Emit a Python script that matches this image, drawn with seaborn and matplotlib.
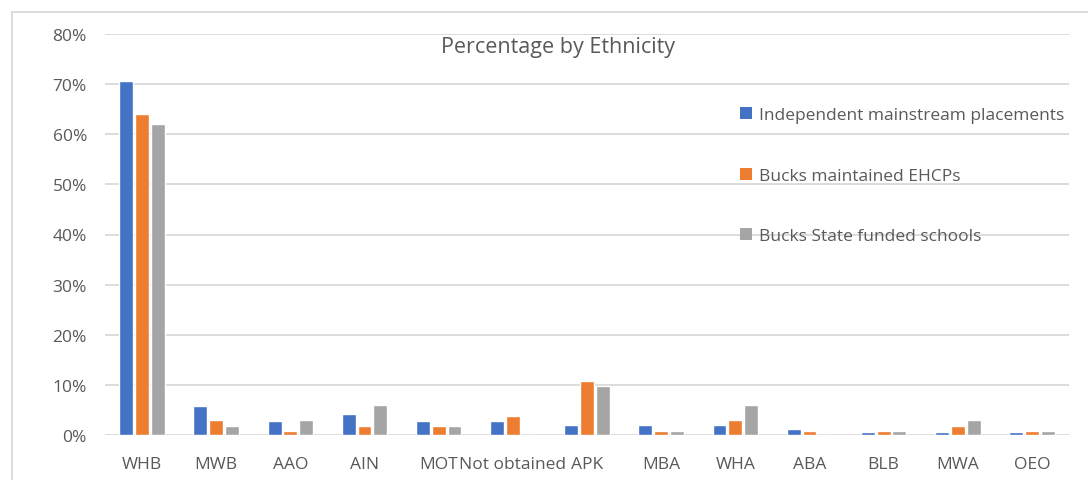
import matplotlib
matplotlib.use("Agg")
import matplotlib.pyplot as plt
import seaborn as sns
import pandas as pd
from matplotlib.ticker import PercentFormatter
from matplotlib.lines import Line2D
from matplotlib.patches import Patch

categories = ["WHB", "MWB", "AAO", "AIN", "MOT", "Not obtained", "APK",
              "MBA", "WHA", "ABA", "BLB", "MWA", "OEO"]
series_names = ["Independent mainstream placements", "Bucks maintained EHCPs",
                "Bucks State funded schools"]
independent = [70.7, 5.7, 2.7, 4.2, 2.7, 2.7, 2.0, 2.0, 2.0, 1.2, 0.5, 0.5, 0.5]
ehcps = [64.0, 2.9, 0.8, 1.8, 1.8, 3.7, 10.7, 0.8, 2.9, 0.8, 0.8, 1.8, 0.8]
state = [62.0, 1.8, 2.9, 5.9, 1.8, 0.0, 9.8, 0.8, 5.9, 0.0, 0.8, 2.9, 0.8]
colors = ["#4472C4", "#ED7D31", "#A5A5A5"]

rows = []
for name, vals in zip(series_names, [independent, ehcps, state]):
    for c, v in zip(categories, vals):
        rows.append({"cat": c, "series": name, "value": v / 100})
df = pd.DataFrame(rows)

sns.set_theme(style="white")
plt.rcParams["font.family"] = ["Open Sans", "DejaVu Sans"]
text_color = "#595959"

fig = plt.figure(figsize=(10.88, 4.81), dpi=100)
ax = fig.add_axes([105 / 1088, 1 - 436 / 481, (1069 - 105) / 1088, (436 - 35) / 481])

sns.barplot(data=df, x="cat", y="value", hue="series", order=categories,
            hue_order=series_names, palette=colors, width=0.64, gap=0.12,
            saturation=1, ax=ax, legend=False)

ax.set_ylim(0, 0.8)
ax.set_yticks([i / 10 for i in range(9)])
ax.yaxis.set_major_formatter(PercentFormatter(1.0, decimals=0))
ax.set_xlim(-0.5, len(categories) - 0.5)
ax.grid(axis="y", color="#D9D9D9", linewidth=1.3)
ax.set_axisbelow(True)
for s in ax.spines.values():
    s.set_visible(False)
ax.set_xlabel("")
ax.set_ylabel("")
ax.tick_params(axis="both", length=0, labelsize=12.5, colors=text_color)
ax.tick_params(axis="y", pad=13)
ax.tick_params(axis="x", pad=15)

fig.text(558 / 1088, 1 - 47 / 481, "Percentage by Ethnicity", ha="center",
         va="center", fontsize=15.5, color=text_color)

handles = [Patch(facecolor=c, edgecolor="none") for c in colors]
leg = ax.legend(handles, series_names, loc="upper left",
                bbox_to_anchor=((740 - 105) / (1069 - 105), (436 - 108) / (436 - 35)),
                frameon=False, fontsize=12.5, labelspacing=2.56,
                handlelength=0.7, handleheight=0.7, handletextpad=0.4,
                borderpad=0, borderaxespad=0)
for t in leg.get_texts():
    t.set_color(text_color)

# outer chart border (left and top visible)
fig.add_artist(Line2D([12 / 1088, 12 / 1088], [1 - 13 / 481, 0], color="#D9D9D9",
                      linewidth=1.3, transform=fig.transFigure))
fig.add_artist(Line2D([12 / 1088, 1], [1 - 13 / 481, 1 - 13 / 481], color="#D9D9D9",
                      linewidth=1.3, transform=fig.transFigure))

fig.savefig("out.png", dpi=100)
